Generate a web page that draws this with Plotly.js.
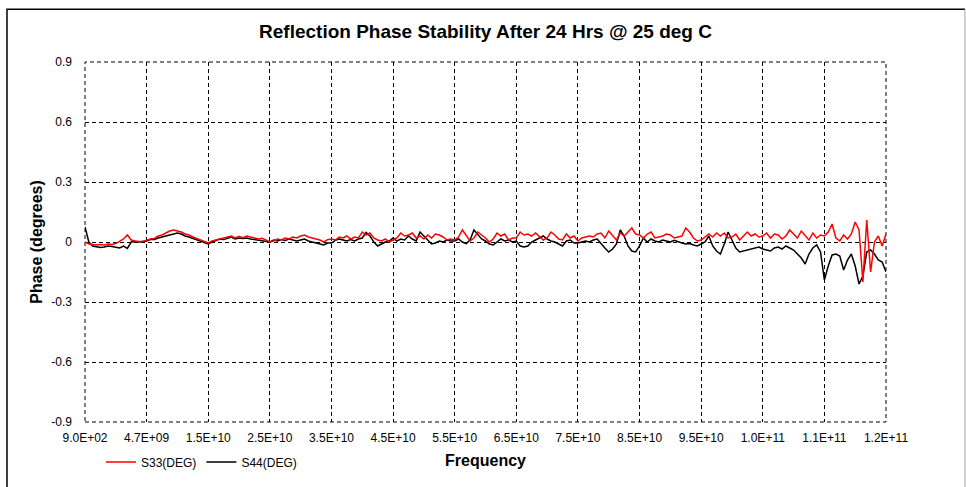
<!DOCTYPE html>
<html>
<head>
<meta charset="utf-8">
<script src="https://cdn.plot.ly/plotly-3.0.1.min.js"></script>
<style>
  html, body { margin: 0; padding: 0; background: #fff; }
  #chart { width: 966px; height: 487px; }
</style>
</head>
<body>
<div id="chart"></div>
<script>
const tickLabels = ["9.0E+02","4.7E+09","1.5E+10","2.5E+10","3.5E+10","4.5E+10","5.5E+10",
                    "6.5E+10","7.5E+10","8.5E+10","9.5E+10","1.0E+11","1.1E+11","1.2E+11"];
const yTickVals = [0.9, 0.6, 0.3, 0, -0.3, -0.6, -0.9];
const yTickText = ["0.9", "0.6", "0.3", "0", "-0.3", "-0.6", "-0.9"];
const pointsPerLabel = 16;

const s33 = [
  0.0, -0.01, -0.012, -0.015, -0.012, -0.015, -0.01, -0.012, -0.008, 0.005, 0.015, 0.035, 0.01, 0.005, 0.002, 0.003,
  0.01, 0.015, 0.018, 0.03, 0.035, 0.045, 0.055, 0.06, 0.055, 0.05, 0.04, 0.035, 0.025, 0.018, 0.01, 0.005,
  -0.005, 0.005, 0.01, 0.015, 0.02, 0.025, 0.03, 0.02, 0.028, 0.022, 0.03, 0.025, 0.02, 0.015, 0.018, 0.01,
  0.0, 0.005, 0.015, 0.01, 0.02, 0.015, 0.025, 0.02, 0.03, 0.035, 0.025, 0.02, 0.015, 0.01, 0.0, 0.012,
  0.015, 0.01, 0.025, 0.02, 0.03, 0.015, 0.025, 0.02, 0.05, 0.035, 0.045, 0.02, 0.01, 0.005, 0.015, 0.0,
  0.01, 0.02, 0.045, 0.03, 0.035, 0.045, 0.02, 0.03, 0.015, 0.035, 0.02, 0.04, 0.035, 0.025, 0.01, 0.015,
  0.01, 0.025, 0.06, 0.03, 0.005, 0.02, 0.05, 0.035, 0.02, 0.0, 0.015, 0.045, 0.03, 0.04, 0.01, 0.02,
  0.02, 0.05, 0.035, 0.04, 0.03, 0.045, 0.025, 0.01, 0.02, 0.05, 0.035, 0.015, 0.01, 0.04, 0.02, 0.03,
  0.005, 0.02, 0.025, 0.03, 0.025, 0.04, 0.045, 0.02, 0.055, 0.03, 0.01, 0.045, 0.03, 0.05, 0.07, 0.04,
  0.035, 0.02, 0.04, 0.05, 0.02, 0.025, 0.03, 0.04, 0.035, 0.02, 0.025, 0.03, 0.07, 0.05, 0.02, 0.005,
  0.01, 0.025, 0.04, 0.025, 0.045, 0.03, 0.045, 0.02, 0.025, 0.04, 0.01, 0.03, 0.05, 0.03, 0.04, 0.025,
  0.03, 0.045, 0.02, 0.04, 0.035, 0.015, 0.03, 0.06, 0.04, 0.02, 0.055, 0.03, 0.01, 0.045, 0.02, 0.035,
  0.03, 0.05, 0.09, 0.02, 0.005, 0.035, 0.015, 0.04, 0.1, 0.06, -0.2, 0.11, -0.15, 0.0, 0.03, -0.02, 0.04
];

const s44 = [
  0.075, 0.0, -0.02, -0.025, -0.028, -0.025, -0.02, -0.022, -0.025, -0.03, -0.02, -0.032, 0.0, 0.002, 0.0, 0.003,
  0.005, 0.012, 0.012, 0.02, 0.025, 0.03, 0.035, 0.04, 0.045, 0.04, 0.03, 0.025, 0.018, 0.012, 0.005, 0.0,
  -0.01, 0.0, 0.008, 0.015, 0.012, 0.02, 0.025, 0.015, 0.02, 0.018, 0.02, 0.015, 0.012, 0.01, 0.008, 0.005,
  0.0, 0.01, 0.005, 0.012, 0.008, 0.015, 0.01, 0.005, 0.01, 0.015, 0.005, 0.0, -0.008, -0.01, -0.015, -0.005,
  -0.005, 0.008, 0.015, 0.01, 0.005, 0.012, 0.005, 0.015, 0.02, 0.048, 0.03, 0.0, -0.02, -0.01, 0.0, 0.005,
  0.02, 0.005, 0.015, 0.01, 0.03, 0.015, 0.005, 0.05, 0.03, 0.01, -0.01, -0.005, 0.005, 0.0, 0.01, 0.005,
  0.005, 0.015, 0.0, -0.008, 0.01, 0.06, 0.035, 0.015, 0.005, -0.01, -0.015, 0.0, 0.015, 0.005, 0.01, 0.0,
  0.005, -0.02, -0.025, -0.02, 0.0, 0.01, 0.02, 0.03, 0.015, 0.005, 0.0, -0.01, -0.02, 0.005, 0.01, -0.005,
  -0.005, 0.0, 0.005, 0.0, 0.01, 0.015, -0.01, -0.03, -0.05, -0.035, -0.01, 0.06, 0.03, -0.02, -0.045, -0.05,
  -0.02, 0.02, 0.0, 0.015, 0.005, 0.0, 0.01, 0.005, 0.0, 0.008, 0.0, -0.005, -0.01, -0.008, -0.015, -0.02,
  -0.01, 0.0, 0.03, -0.02, -0.045, -0.06, -0.01, 0.05, 0.01, -0.03, -0.05, -0.045, -0.04, -0.035, -0.03, -0.025,
  -0.035, -0.04, -0.045, -0.03, -0.025, -0.035, -0.02, -0.03, -0.04, -0.06, -0.08, -0.11, -0.06, -0.03, -0.015, -0.05,
  -0.19, -0.12, -0.065, -0.06, -0.07, -0.14, -0.09, -0.06, -0.12, -0.21, -0.17, -0.05, -0.04, -0.06, -0.09, -0.1, -0.15
];

const xIndex = s33.map((_, i) => i);
const tickPos = tickLabels.map((_, i) => i * pointsPerLabel);

const traces = [
  { x: xIndex, y: s44, type: 'scatter', mode: 'lines', name: 'S44(DEG)',
    line: { color: '#000000', width: 1.5 }, legendrank: 2 },
  { x: xIndex, y: s33, type: 'scatter', mode: 'lines', name: 'S33(DEG)',
    line: { color: '#ff0000', width: 1.5 }, legendrank: 1 }
];

const layout = {
  width: 966, height: 487,
  margin: { l: 85, r: 80, t: 62, b: 64 },
  paper_bgcolor: '#ffffff', plot_bgcolor: '#ffffff',
  font: { family: 'Liberation Sans, Arial, sans-serif', size: 12, color: '#000' },
  title: { text: 'Reflection Phase Stability After 24 Hrs @ 25 deg C',
           font: { family: 'Liberation Sans, Arial, sans-serif', size: 19, color: '#000', weight: 'bold' },
           x: 0.5, xanchor: 'center', xref: 'paper', y: 0.936, yanchor: 'middle' },
  xaxis: {
    type: 'linear', range: [0, (tickLabels.length - 1) * pointsPerLabel],
    tickmode: 'array', tickvals: tickPos, ticktext: tickLabels,
    showgrid: true, gridcolor: '#000', gridwidth: 1, griddash: '4px,3px',
    zeroline: false, showline: false, ticks: '', ticklabelstandoff: 7,
    tickfont: { size: 12, color: '#000' },
    title: { text: 'Frequency', font: { size: 16, weight: 'bold', color: '#000' }, standoff: 10 }
  },
  yaxis: {
    range: [-0.9, 0.9], tickmode: 'array', tickvals: yTickVals, ticktext: yTickText,
    showgrid: true, gridcolor: '#000', gridwidth: 1, griddash: '4px,3px',
    zeroline: false, showline: false, ticks: '', ticklabelstandoff: 12,
    tickfont: { size: 12, color: '#000' },
    title: { text: 'Phase (degrees)', font: { size: 16, weight: 'bold', color: '#000' }, standoff: 4 }
  },
  showlegend: true,
  legend: { orientation: 'h', x: 0.02, xanchor: 'left', y: -0.108, yanchor: 'middle',
            font: { size: 12, color: '#000' }, bgcolor: 'rgba(0,0,0,0)', traceorder: 'normal' },
  shapes: [
    { type: 'rect', xref: 'paper', yref: 'paper', x0: 0, x1: 1, y0: 0, y1: 1, layer: 'below',
      line: { color: '#000', width: 1, dash: '4px,3px' } },
    { type: 'path', xref: 'paper', yref: 'paper',
      path: 'M -0.0974,-0.3 L -0.0974,1.1468 L 1.0986,1.1468',
      line: { color: '#000', width: 1.5 } },
    { type: 'line', xref: 'paper', yref: 'paper', x0: 1.0986, x1: 1.0986, y0: 1.1468, y1: -0.3,
      line: { color: '#a0a0a0', width: 1 } }
  ]
};

Plotly.newPlot('chart', traces, layout, { staticPlot: true, displayModeBar: false });
</script>
</body>
</html>
